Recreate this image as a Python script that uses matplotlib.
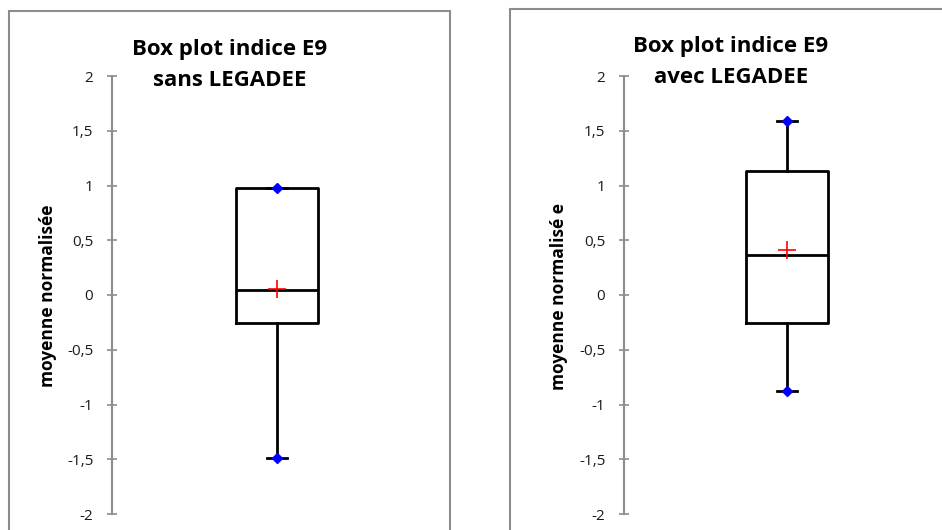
import matplotlib
matplotlib.use("Agg")
import matplotlib.pyplot as plt
from matplotlib.patches import Rectangle

plt.rcParams['font.family'] = ['Open Sans', 'DejaVu Sans']

# stats
titles = ["Box plot indice E9\nsans LEGADEE", "Box plot indice E9\navec LEGADEE"]
ylabels = ["moyenne normalisée", "moyenne normalisé e"]
q1 = [-0.256, -0.255]
med = [0.05, 0.362]
q3 = [0.975, 1.13]
whislo = [-1.49, -0.875]
whishi = [0.975, 1.59]
means = [0.055, 0.407]
yticks = [-2, -1.5, -1, -0.5, 0, 0.5, 1, 1.5, 2]
yticklabels = ["-2", "-1,5", "-1", "-0,5", "0", "0,5", "1", "1,5", "2"]

W, H = 942, 530
fig = plt.figure(figsize=(W / 100, H / 100), dpi=100)

# panel frames (excel chart areas), cut at the bottom
fig.patches.append(Rectangle((9 / W, -0.1), 441 / W, 1.1 - 11 / H, transform=fig.transFigure,
                             fill=False, edgecolor='#8c8c8c', linewidth=1.5))
fig.patches.append(Rectangle((510 / W, -0.1), 500 / W, 1.1 - 9 / H, transform=fig.transFigure,
                             fill=False, edgecolor='#8c8c8c', linewidth=1.5))

axes_px = [(112, 330, 230, 65, 48), (624, 326, 731, 62, 559)]
bottom = 16 / H
height = (514 - 76) / H

for i, (x0, w, tx, ty, lx) in enumerate(axes_px):
    ax = fig.add_axes([x0 / W, bottom, w / W, height])
    stats = [dict(q1=q1[i], med=med[i], q3=q3[i], whislo=whislo[i], whishi=whishi[i],
                  mean=means[i], fliers=[])]
    ax.bxp(stats, positions=[0], widths=0.25, capwidths=0.06, showmeans=True,
           boxprops=dict(color='black', linewidth=2),
           medianprops=dict(color='black', linewidth=2),
           whiskerprops=dict(color='black', linewidth=2),
           capprops=dict(color='black', linewidth=2),
           meanprops=dict(marker='+', markeredgecolor='red', markersize=13,
                          markeredgewidth=1.2))
    ax.plot([0, 0], [whislo[i], whishi[i]], linestyle='none', marker='D',
            color='blue', markersize=5, zorder=5)

    ax.set_xlim(-0.5, 0.5)
    ax.set_ylim(-2, 2)
    ax.set_yticks(yticks)
    ax.set_yticklabels(yticklabels, fontsize=11, color='#1a1a1a')
    ax.tick_params(axis='y', direction='inout', length=7, width=1.2, color='#8c8c8c', pad=10)
    ax.set_xticks([])
    for s in ['top', 'right', 'bottom']:
        ax.spines[s].set_visible(False)
    ax.spines['left'].set_color('#8c8c8c')
    ax.spines['left'].set_linewidth(1.5)
    ax.patch.set_visible(False)

    fig.text(tx / W, 1 - ty / H, titles[i], ha='center', va='center',
             fontsize=16, fontweight='bold', linespacing=1.65)
    fig.text(lx / W, 1 - 296 / H, ylabels[i], ha='center', va='center', rotation=90,
             fontsize=12.5, fontweight='bold')

fig.savefig("out.png", dpi=100)
